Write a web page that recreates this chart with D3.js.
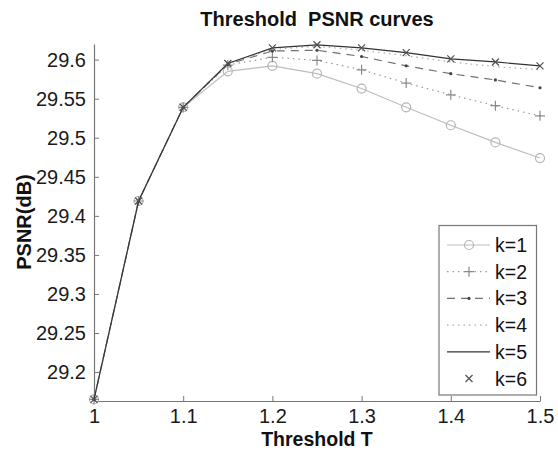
<!DOCTYPE html>
<html><head><meta charset="utf-8">
<script src="https://cdn.jsdelivr.net/npm/d3@7"></script>
<style>body{margin:0;background:#fff}svg{display:block}text{font-family:"Liberation Sans",Arial,Helvetica,sans-serif}</style>
</head><body>
<svg id="c" width="558" height="450"></svg>
<script>
const thresholds = [1, 1.05, 1.1, 1.15, 1.2, 1.25, 1.3, 1.35, 1.4, 1.45, 1.5];
const k1 = [29.165, 29.419, 29.539, 29.585, 29.592, 29.582, 29.563, 29.539, 29.516, 29.494, 29.474];
const k2 = [29.165, 29.419, 29.539, 29.593, 29.603, 29.599, 29.587, 29.570, 29.555, 29.541, 29.528];
const k3 = [29.165, 29.419, 29.539, 29.594, 29.611, 29.612, 29.604, 29.592, 29.582, 29.574, 29.564];
const k4 = [29.165, 29.419, 29.539, 29.595, 29.613, 29.617, 29.612, 29.605, 29.597, 29.591, 29.587];
const k5 = [29.165, 29.419, 29.539, 29.595, 29.615, 29.619, 29.615, 29.609, 29.601, 29.597, 29.592];
const k6 = [29.165, 29.419, 29.539, 29.595, 29.615, 29.619, 29.615, 29.609, 29.601, 29.597, 29.592];
const seriesNames = ["k=1", "k=2", "k=3", "k=4", "k=5", "k=6"];
const xTicks = [1, 1.1, 1.2, 1.3, 1.4, 1.5];
const xTickLabels = ["1", "1.1", "1.2", "1.3", "1.4", "1.5"];
const yTicks = [29.2, 29.25, 29.3, 29.35, 29.4, 29.45, 29.5, 29.55, 29.6];
const yTickLabels = ["29.2", "29.25", "29.3", "29.35", "29.4", "29.45", "29.5", "29.55", "29.6"];
const titleText = "Threshold  PSNR curves";
const xLabel = "Threshold T";
const yLabel = "PSNR(dB)";

const styles = [
  {values: k1, color: "#bdbdbd", dash: null, line: true, marker: "circle", mcolor: "#b5b5b5"},
  {values: k2, color: "#9a9a9a", dash: "1.5,4", line: true, marker: "plus", mcolor: "#8a8a8a"},
  {values: k3, color: "#707070", dash: "8,6", line: true, marker: "dot", mcolor: "#444"},
  {values: k4, color: "#aaaaaa", dash: "1.5,4", line: true, marker: null},
  {values: k5, color: "#333333", dash: null, line: true, marker: null},
  {values: k6, color: "#555", dash: null, line: false, marker: "x", mcolor: "#505050"}
];

const svg = d3.select("#c");
const x = d3.scaleLinear().domain([1, 1.5]).range([94, 540]);
const y = d3.scaleLinear().domain([29.163, 29.62]).range([401, 44]);

// axes
const xAxis = d3.axisBottom(x).tickValues(xTicks).tickSizeInner(-5).tickSizeOuter(0)
  .tickFormat((d,i)=>xTickLabels[i]);
const gx = svg.append("g").attr("transform","translate(0,401)").call(xAxis);
gx.selectAll(".tick text").attr("y",22).attr("dy",null);
const yAxis = d3.axisLeft(y).tickValues(yTicks).tickSizeInner(-5).tickSizeOuter(0).tickPadding(8)
  .tickFormat((d,i)=>yTickLabels[i]);
const gy = svg.append("g").attr("transform","translate(94,0)").call(yAxis);
[gx, gy].forEach(g=>{
  g.select(".domain").attr("stroke","#777").attr("stroke-width",1.2);
  g.selectAll(".tick line").attr("stroke","#777");
  g.selectAll(".tick text").attr("font-size",20).attr("fill","#1a1a1a")
    .style("font-family",'"Liberation Sans",Arial,Helvetica,sans-serif');
});

const lineGen = d3.line().x((d,i)=>x(thresholds[i])).y(d=>y(d));
const plot = svg.append("g");

function drawMarker(g, type, cx, cy, color) {
  if (type === "circle") {
    g.append("circle").attr("cx",cx).attr("cy",cy).attr("r",4.5).attr("fill","none").attr("stroke",color).attr("stroke-width",1.2);
  } else if (type === "plus") {
    g.append("path").attr("d",`M${cx-5},${cy}H${cx+5}M${cx},${cy-5}V${cy+5}`).attr("stroke",color).attr("stroke-width",1.2);
  } else if (type === "dot") {
    g.append("circle").attr("cx",cx).attr("cy",cy).attr("r",1.6).attr("fill",color);
  } else if (type === "x") {
    g.append("path").attr("d",`M${cx-3.5},${cy-3.5}L${cx+3.5},${cy+3.5}M${cx-3.5},${cy+3.5}L${cx+3.5},${cy-3.5}`).attr("stroke",color).attr("stroke-width",1.2);
  }
}

styles.forEach(s=>{
  if (s.line) {
    plot.append("path").datum(s.values).attr("d",lineGen).attr("fill","none")
      .attr("stroke",s.color).attr("stroke-width",1.2).attr("stroke-dasharray",s.dash);
  }
  if (s.marker) {
    const mg = plot.append("g");
    s.values.forEach((v,i)=>drawMarker(mg, s.marker, x(thresholds[i]), y(v), s.mcolor));
  }
});

// title & labels
svg.append("text").attr("x",317).attr("y",26).attr("text-anchor","middle").attr("font-size",20)
  .attr("font-weight","bold").attr("fill","#111").style("white-space","pre").text(titleText);
svg.append("text").attr("x",317).attr("y",446).attr("text-anchor","middle").attr("font-size",19.5)
  .attr("font-weight","bold").attr("fill","#111").text(xLabel);
svg.append("text").attr("transform","translate(31,222) rotate(-90)").attr("text-anchor","middle").attr("font-size",20)
  .attr("font-weight","bold").attr("fill","#111").text(yLabel);

// legend
const leg = svg.append("g");
leg.append("rect").attr("x",439).attr("y",225.5).attr("width",97.5).attr("height",169.5)
  .attr("fill","#fff").attr("stroke","#777").attr("stroke-width",1.2);
seriesNames.forEach((name,i)=>{
  const s = styles[i];
  const cy = 245 + i*26.7;
  if (s.line) {
    leg.append("line").attr("x1",447).attr("x2",490).attr("y1",cy).attr("y2",cy)
      .attr("stroke",s.color).attr("stroke-width",1.2).attr("stroke-dasharray",s.dash);
  }
  if (s.marker) drawMarker(leg, s.marker, 469, cy, s.mcolor);
  leg.append("text").attr("x",495).attr("y",cy+7).attr("font-size",19.5).attr("fill","#111").text(name);
});
</script>
</body></html>
